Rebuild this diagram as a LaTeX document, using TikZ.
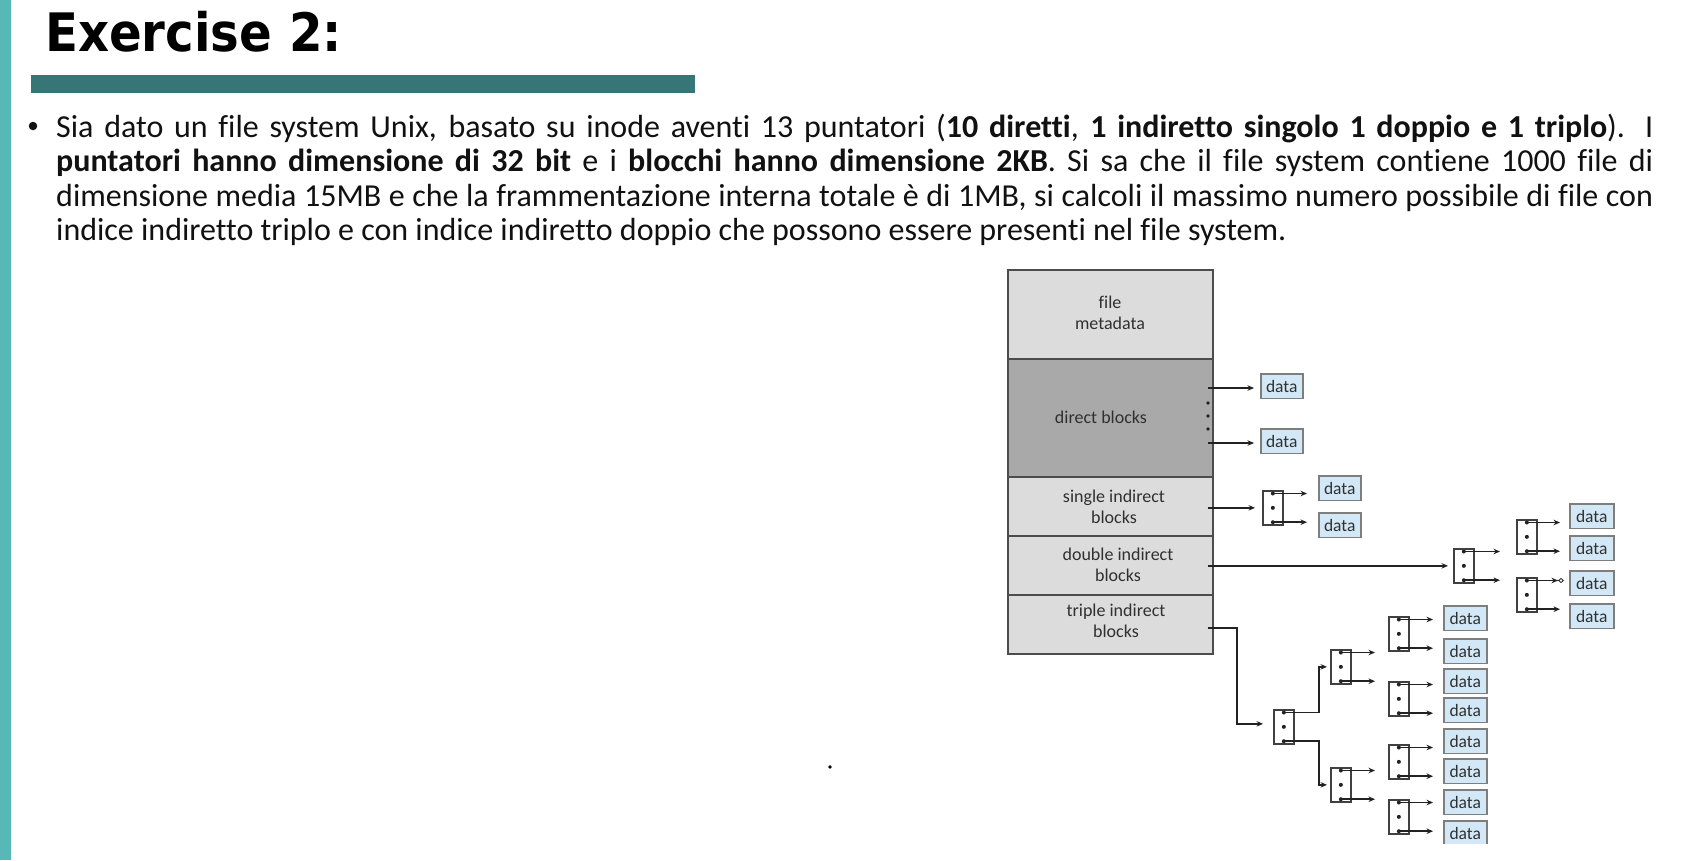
\documentclass[tikz,border=0pt]{standalone}
\usepackage{fontspec}
\usepackage{graphicx}
\setmainfont{Carlito}[Ligatures=NoCommon]
\newfontfamily\headfont{DejaVu Sans}
\newfontfamily\figfont{Carlito}[Ligatures=NoCommon]
\usetikzlibrary{arrows.meta,calc}

\definecolor{stripe}{HTML}{58B7B7}
\definecolor{rulecol}{HTML}{377676}
\definecolor{rowgray}{HTML}{DCDCDC}
\definecolor{rowdark}{HTML}{A9A9A9}
\definecolor{datafill}{HTML}{D3E8F6}
\definecolor{databorder}{HTML}{7E7E7E}
\definecolor{figtext}{HTML}{303030}
\definecolor{wire}{HTML}{222222}
\definecolor{bodytext}{HTML}{111111}

\tikzset{
  bodyline/.style={anchor=base west, inner sep=0, font=\fontsize{32}{36}\selectfont, text=bodytext},
  row/.style={draw=black!70, line width=1.5pt, fill=rowgray, minimum width=205,
    anchor=north west, inner sep=0},
  rowlabel/.style={font=\figfont\fontsize{18}{21}\selectfont, text=figtext, align=center, inner sep=0},
  datab/.style={draw=databorder, line width=1.5pt, fill=datafill, minimum width=43,
    minimum height=24.5, anchor=north west, inner sep=0,
    font=\figfont\fontsize{17.5}{20}\selectfont, text=figtext},
  idx/.style={draw=black!75, line width=1.7pt, fill=white, minimum width=20,
    minimum height=34, anchor=north west, inner sep=0},
  arr/.style={draw=wire, line width=1.6pt, -{Stealth[length=6.5pt,width=5.5pt]}},
}

% index block with three pointer dots: name, left x, top y
\newcommand\indexblock[3]{%
  \node[idx] (#1) at (#2,#3) {};
  \coordinate (#1-t) at ($(#1.north)+(0,3.5)$);
  \coordinate (#1-m) at (#1.center);
  \coordinate (#1-b) at ($(#1.south)+(0,-3.5)$);
  \fill[wire] (#1-t) circle (2) (#1-m) circle (2) (#1-b) circle (2);
}

\begin{document}
\begin{tikzpicture}[x=1pt,y=-1pt]
\useasboundingbox (0,0) rectangle (1694,860);
\fill[white] (0,0) rectangle (1694,860);

% slide frame
\fill[stripe] (0,0) rectangle (11,860);
\node[anchor=base west, inner sep=0, font=\headfont\bfseries\fontsize{53}{60}\selectfont]
  (title) at (45,51) {\scalebox{0.91}[1]{Exercise 2:}};
\fill[rulecol] (31,75) rectangle (695,93);

% exercise text
\node[circle, fill=bodytext, inner sep=0, minimum size=8.5] (bullet) at (33,126) {};
\node[bodyline] (line1) at (56,137) {\makebox[1597pt][s]{Sia dato un file system Unix, basato su inode aventi 13 puntatori (\textbf{10 diretti}, \textbf{1 indiretto singolo 1 doppio e 1 triplo}). I}};
\node[bodyline] (line2) at (56,171.5) {\makebox[1597pt][s]{\textbf{puntatori hanno dimensione di 32 bit} e i \textbf{blocchi hanno dimensione 2KB}. Si sa che il file system contiene 1000 file di}};
\node[bodyline] (line3) at (56,206) {\makebox[1597pt][s]{dimensione media 15MB e che la frammentazione interna totale è di 1MB, si calcoli il massimo numero possibile di file con}};
\node[bodyline] (line4) at (56,240.5) {indice indiretto triplo e con indice indiretto doppio che possono essere presenti nel file system.};

\fill[black] (830,767) circle (1.8);

\begin{scope}
\clip (0,0) rectangle (1694,843.5);

% inode
\node[row, minimum height=89] (meta) at (1007,269) {};
\node[row, minimum height=118, fill=rowdark] (direct) at (1007,358) {};
\node[row, minimum height=59] (single) at (1007,476) {};
\node[row, minimum height=59] (double) at (1007,535) {};
\node[row, minimum height=59] (triple) at (1007,594) {};

\node[rowlabel] (lmeta) at (1110,312.5) {file\\metadata};
\node[rowlabel] (ldirect) at (1101,417) {direct blocks};
\node[rowlabel] (lsingle) at (1114,507) {single indirect\\blocks};
\node[rowlabel] (ldouble) at (1118,565) {double indirect\\blocks};
\node[rowlabel] (ltriple) at (1116,621) {triple indirect\\blocks};

\foreach \y in {403,416,429} \fill[wire] (1208,\y) circle (1.8);

% data blocks
\node[datab, minimum width=42] (d1) at (1260,373) {data};
\node[datab, minimum width=42] (d2) at (1260,428) {data};
\node[datab, minimum width=42] (d3) at (1318,475) {data};
\node[datab, minimum width=42] (d4) at (1318,512) {data};
\node[datab, minimum width=44] (d5) at (1569,503) {data};
\node[datab, minimum width=44] (d6) at (1569,535) {data};
\node[datab, minimum width=44] (d7) at (1569,570) {data};
\node[datab, minimum width=44] (d8) at (1569,603) {data};
\node[datab] (d9)  at (1443,605) {data};
\node[datab] (d10) at (1443,638) {data};
\node[datab] (d11) at (1443,668) {data};
\node[datab] (d12) at (1443,697) {data};
\node[datab] (d13) at (1443,728) {data};
\node[datab] (d14) at (1443,758) {data};
\node[datab] (d15) at (1443,789) {data};
\node[datab] (d16) at (1443,820) {data};

% index blocks
\indexblock{ib1}{1262}{490}
\indexblock{ib2}{1453}{548}
\indexblock{ib3}{1516}{519}
\indexblock{ib4}{1516}{577}
\indexblock{ib5}{1273}{709}
\indexblock{ib6}{1330}{649}
\indexblock{ib7}{1330}{767}
\indexblock{ib8}{1388}{616}
\indexblock{ib9}{1388}{681}
\indexblock{ib10}{1388}{744}
\indexblock{ib11}{1388}{799}

% direct pointers
\draw[arr, shorten >=6pt] ([yshift=-2pt]d1.west -| direct.east) ++(-6,0) -- ([yshift=-2pt]d1.west);
\draw[arr, shorten >=6pt] ([yshift=-2pt]d2.west -| direct.east) ++(-6,0) -- ([yshift=-2pt]d2.west);

% single indirect
\draw[arr, shorten >=7pt] (ib1.west -| single.east) ++(-6,0) -- (ib1.west);
\draw[arr, shorten >=11pt] (ib1-t) -- (ib1-t -| d3.west);
\draw[arr, shorten >=11pt] (ib1-b) -- (ib1-b -| d4.west);

% double indirect
\draw[arr, shorten >=5pt] (ib2.west -| double.east) ++(-6,0) -- (ib2.west);
\draw[arr, shorten >=16pt] (ib2-t) -- (ib2-t -| ib3.west);
\draw[arr, shorten >=16pt] (ib2-b) -- (ib2-b -| ib4.west);
\draw[arr, shorten >=9pt] (ib3-t) -- (ib3-t -| d5.west);
\draw[arr, shorten >=9pt] (ib3-b) -- (ib3-b -| d6.west);
\draw[draw=wire, line width=1.6pt, shorten >=5pt,
  -{Stealth[length=6.5pt,width=5.5pt] Diamond[open,length=6pt,width=5pt,line width=0.8pt]}]
  (ib4-t) -- (ib4-t -| d7.west);
\draw[arr, shorten >=9pt] (ib4-b) -- (ib4-b -| d8.west);

% triple indirect
\draw[arr, shorten >=10pt] ($(triple.east)+(-6,3.5)$) -| ($(ib5.west)+(-36,-3)$) -- ([yshift=3pt]ib5.west);
\draw[arr, shorten >=3pt] (ib5-t) -- ++(35,0) |- (ib6.west);
\draw[arr, shorten >=3pt] (ib5-b) -- ++(35,0) |- (ib7.west);
\draw[arr, shorten >=13pt] (ib6-t) -- (ib6-t -| ib8.west);
\draw[arr, shorten >=13pt] (ib6-b) -- (ib6-b -| ib9.west);
\draw[arr, shorten >=13pt] (ib7-t) -- (ib7-t -| ib10.west);
\draw[arr, shorten >=13pt] (ib7-b) -- (ib7-b -| ib11.west);
\draw[arr, shorten >=10pt] (ib8-t) -- (ib8-t -| d9.west);
\draw[arr, shorten >=10pt] (ib8-b) -- (ib8-b -| d10.west);
\draw[arr, shorten >=10pt] (ib9-t) -- (ib9-t -| d11.west);
\draw[arr, shorten >=10pt] (ib9-b) -- (ib9-b -| d12.west);
\draw[arr, shorten >=10pt] (ib10-t) -- (ib10-t -| d13.west);
\draw[arr, shorten >=10pt] (ib10-b) -- (ib10-b -| d14.west);
\draw[arr, shorten >=10pt] (ib11-t) -- (ib11-t -| d15.west);
\draw[arr, shorten >=10pt] (ib11-b) -- (ib11-b -| d16.west);
\end{scope}
\end{tikzpicture}
\end{document}
